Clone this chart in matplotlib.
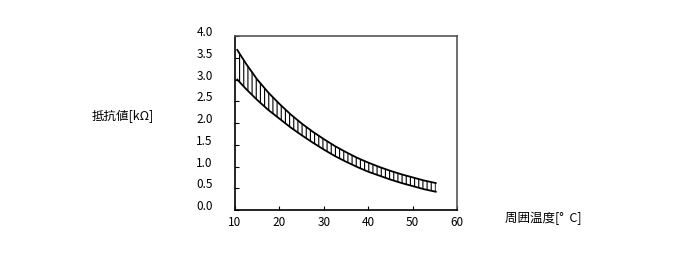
import matplotlib
matplotlib.use("Agg")
import matplotlib.pyplot as plt
from matplotlib.transforms import ScaledTranslation

plt.rcParams['font.family'] = ['Noto Sans CJK JP', 'DejaVu Sans']
plt.rcParams['hatch.linewidth'] = 0.8

# Data
temp = [10.5, 12.5, 15, 17.5, 20, 22.5, 25, 27.5, 30, 32.5, 35, 37.5,
        40, 42.5, 45, 47.5, 50, 52.5, 55.2]
r_upper = [3.68, 3.36, 3.0, 2.70, 2.44, 2.20, 1.99, 1.80, 1.63, 1.47, 1.33,
           1.20, 1.09, 0.99, 0.90, 0.82, 0.75, 0.68, 0.62]
r_lower = [3.0, 2.78, 2.53, 2.30, 2.10, 1.90, 1.72, 1.55, 1.39, 1.24, 1.11,
           0.99, 0.88, 0.79, 0.70, 0.62, 0.55, 0.48, 0.42]
xticks = [10, 20, 30, 40, 50, 60]
yticks = [0.0, 0.5, 1.0, 1.5, 2.0, 2.5, 3.0, 3.5, 4.0]
xlabel = "周囲温度[°  C]"
ylabel = "抵抗値[kΩ]"

fig = plt.figure(figsize=(6.88, 2.69), dpi=100)
ax = fig.add_axes([0.3416, 0.2193, 0.3227, 0.6468])

ax.fill_between(temp, r_lower, r_upper, facecolor='white', edgecolor='black',
                hatch='||||', linewidth=0)
ax.plot(temp, r_upper, color='black', lw=1.3)
ax.plot(temp, r_lower, color='black', lw=1.3)

ax.set_xlim(10, 60)
ax.set_ylim(0, 4)
ax.set_xticks(xticks)
ax.set_yticks(yticks)
ax.set_xticklabels([str(v) for v in xticks])
ax.set_yticklabels([f"{v:.1f}" for v in yticks])
ax.tick_params(direction='in', length=3, width=0.8, labelsize=8.5, colors='black')
ax.tick_params(axis='y', pad=16)
ax.tick_params(axis='x', pad=4)

off = ScaledTranslation(0, 5 / 100, fig.dpi_scale_trans)
for lab in ax.get_yticklabels():
    lab.set_transform(lab.get_transform() + off)

for s in ['left', 'bottom']:
    ax.spines[s].set_color('black')
    ax.spines[s].set_linewidth(1.2)
for s in ['top', 'right']:
    ax.spines[s].set_color('#555555')
    ax.spines[s].set_linewidth(1.2)

fig.text(123 / 688, 1 - 117 / 269, ylabel, ha='center', va='center', fontsize=9)
fig.text(543 / 688, 1 - 218 / 269, xlabel, ha='center', va='center', fontsize=9)

fig.savefig("out.png", dpi=100)
